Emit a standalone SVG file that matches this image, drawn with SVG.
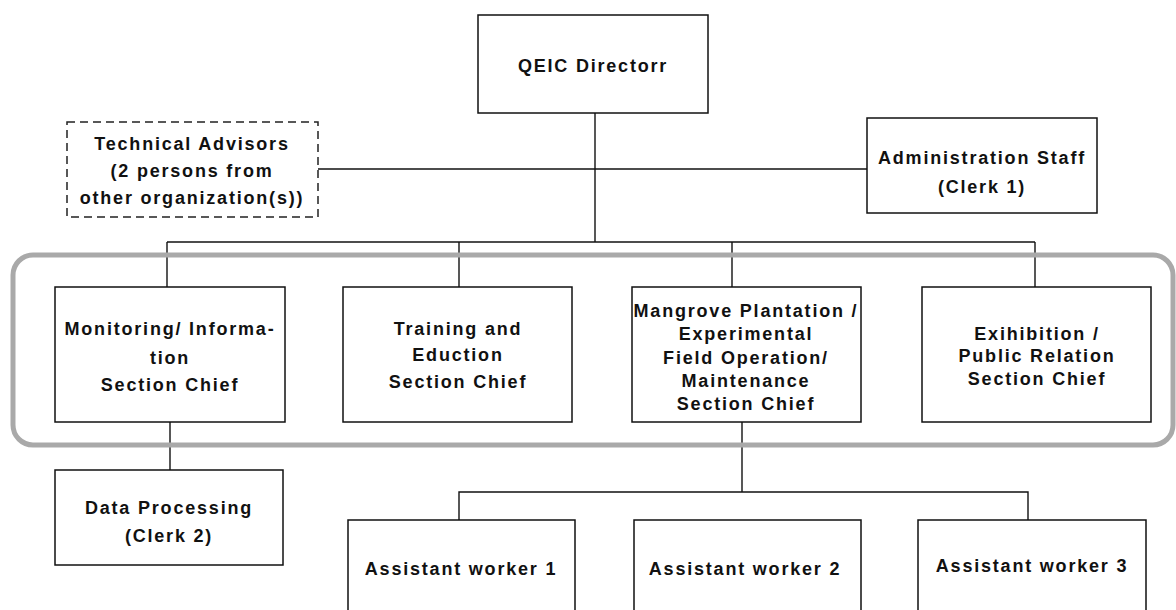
<svg xmlns="http://www.w3.org/2000/svg" width="1176" height="610" viewBox="0 0 1176 610">
  <style>
    .box { fill: #ffffff; stroke: #111111; stroke-width: 1.5; }
    .dash { fill: #ffffff; stroke: #222222; stroke-width: 1.5; stroke-dasharray: 8 5; }
    .open { fill: none; stroke: #111111; stroke-width: 1.5; }
    .lbl { font-family: "Liberation Sans", Arial, sans-serif; font-weight: bold; font-size: 18px; letter-spacing: 1.8px; fill: #111111; text-anchor: middle; }
    .wire { fill: none; stroke: #111111; stroke-width: 1.4; }
    .frame { fill: none; stroke: #a9a9a9; stroke-width: 5; }
  </style>
  <rect width="1176" height="610" fill="#ffffff"/>

  <!-- connectors -->
  <g id="connectors" class="wire">
    <line x1="595" y1="113" x2="595" y2="242"/>
    <line x1="318" y1="169" x2="867" y2="169"/>
    <line x1="167" y1="242" x2="1035" y2="242"/>
    <line x1="167" y1="242" x2="167" y2="287"/>
    <line x1="459" y1="242" x2="459" y2="287"/>
    <line x1="732" y1="242" x2="732" y2="287"/>
    <line x1="1035" y1="242" x2="1035" y2="287"/>
    <line x1="170" y1="422" x2="170" y2="470"/>
    <line x1="742" y1="422" x2="742" y2="492"/>
    <polyline points="459,520 459,492 1028,492 1028,520"/>
  </g>

  <!-- frame grouping the four section chiefs -->
  <g id="section-frame">
    <rect class="frame" x="13" y="255" width="1160" height="190" rx="20" ry="20"/>
  </g>

  <g id="director">
    <rect class="box" x="478" y="15" width="230" height="98"/>
    <text class="lbl" x="593" y="72">QEIC Directorr</text>
  </g>

  <g id="technical-advisors">
    <rect class="dash" x="67" y="122" width="251" height="95"/>
    <text class="lbl" x="192" y="150">Technical Advisors</text>
    <text class="lbl" x="192" y="177">(2 persons from</text>
    <text class="lbl" x="192" y="204">other organization(s))</text>
  </g>

  <g id="administration">
    <rect class="box" x="867" y="118" width="230" height="95"/>
    <text class="lbl" x="982" y="164">Administration Staff</text>
    <text class="lbl" x="982" y="193">(Clerk 1)</text>
  </g>

  <g id="monitoring">
    <rect class="box" x="55" y="287" width="230" height="135"/>
    <text class="lbl" x="170" y="335">Monitoring/ Informa-</text>
    <text class="lbl" x="170" y="364">tion</text>
    <text class="lbl" x="170" y="391">Section Chief</text>
  </g>

  <g id="training">
    <rect class="box" x="343" y="287" width="229" height="135"/>
    <text class="lbl" x="458" y="335">Training and</text>
    <text class="lbl" x="458" y="361">Eduction</text>
    <text class="lbl" x="458" y="388">Section Chief</text>
  </g>

  <g id="mangrove">
    <rect class="box" x="632" y="287" width="229" height="135"/>
    <text class="lbl" x="746" y="317">Mangrove Plantation /</text>
    <text class="lbl" x="746" y="340">Experimental</text>
    <text class="lbl" x="746" y="364">Field Operation/</text>
    <text class="lbl" x="746" y="387">Maintenance</text>
    <text class="lbl" x="746" y="410">Section Chief</text>
  </g>

  <g id="exhibition">
    <rect class="box" x="922" y="287" width="229" height="135"/>
    <text class="lbl" x="1037" y="340">Exihibition /</text>
    <text class="lbl" x="1037" y="362">Public Relation</text>
    <text class="lbl" x="1037" y="385">Section Chief</text>
  </g>

  <g id="data-processing">
    <rect class="box" x="55" y="470" width="228" height="95"/>
    <text class="lbl" x="169" y="514">Data Processing</text>
    <text class="lbl" x="169" y="542">(Clerk 2)</text>
  </g>

  <!-- worker boxes run off the bottom of the page -->
  <g id="assistant-1">
    <path class="open" d="M348,612 V520 H575 V612"/>
    <text class="lbl" x="461" y="575">Assistant worker 1</text>
  </g>

  <g id="assistant-2">
    <path class="open" d="M634,612 V520 H861 V612"/>
    <text class="lbl" x="745" y="575">Assistant worker 2</text>
  </g>

  <g id="assistant-3">
    <path class="open" d="M918,612 V520 H1146 V612"/>
    <text class="lbl" x="1032" y="572">Assistant worker 3</text>
  </g>
</svg>
